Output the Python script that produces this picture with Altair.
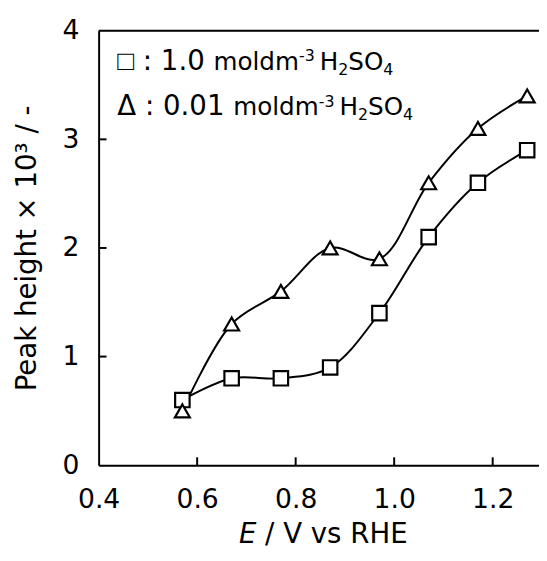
import altair as alt
import pandas as pd

# ---- data ----
potential = [0.57, 0.67, 0.77, 0.87, 0.97, 1.07, 1.17, 1.27]
peak_1M = [0.6, 0.8, 0.8, 0.9, 1.4, 2.1, 2.6, 2.9]
peak_001M = [0.5, 1.3, 1.6, 2.0, 1.9, 2.6, 3.1, 3.4]
x_tick_labels = [0.4, 0.6, 0.8, 1.0, 1.2]
x_inner_ticks = [0.6, 0.8, 1.0, 1.2]
y_tick_labels = [0, 1, 2, 3, 4]
y_inner_ticks = [1, 2, 3]

DV = "DejaVu Sans"
LIB = "Liberation Sans"
W, H = 447, 441
BIG, MID, SMALL = 28, 25, 16
LBL = 27

df = pd.DataFrame({
    "E": potential * 2,
    "peak": peak_1M + peak_001M,
    "series": ["1.0"] * len(potential) + ["0.01"] * len(potential),
})

# advance widths (em) used to lay out rich text pieces
ADV_DV = {" ": .318, ":": .337, ".": .318, "-": .361, "/": .337, "m": .974, "o": .612,
          "l": .278, "d": .635, "H": .752, "S": .635, "O": .787, "E": .632, "V": .684,
          "v": .592, "s": .521, "R": .695, "\u0394": .684}
for c in "0123456789":
    ADV_DV[c] = .636
ADV_LIB = {"\u25a1": .604}


def tw(t, fs, font=DV):
    table = ADV_LIB if font == LIB else ADV_DV
    return sum(table.get(c, .6) for c in t) * fs


def run(parts, x0, y0):
    rows, x = [], x0
    for t, font, fs, dy in parts:
        if t.strip():
            rows.append({"t": t, "px": x, "py": y0 + dy, "fs": fs, "font": font})
        x += tw(t, fs, font)
    return rows


def legend_line(marker, marker_font, conc, y0):
    return run([(marker, marker_font, BIG, 0), (" ", DV, BIG, 0), (": " + conc, DV, BIG, 0),
                (" ", DV, BIG, 0), ("moldm", DV, MID, 0), ("-3", DV, SMALL, -9),
                (" ", DV, SMALL, 0), ("H", DV, MID, 0), ("2", DV, SMALL, 5),
                ("SO", DV, MID, 0), ("4", DV, SMALL, 5)], 19, y0)


legend_df = pd.DataFrame(legend_line("\u25a1", LIB, "1.0", 40) +
                         legend_line("\u0394", DV, "0.01", 86))

xs = alt.Scale(domain=[0.4, 0.4 + W / 500.0], nice=False, zero=False)
ys = alt.Scale(domain=[0, 4], nice=False)

x_axis = alt.Axis(values=x_tick_labels, format=".1f", title=None, tickSize=0,
                  labelPadding=22, labelFontSize=LBL, labelFont=DV, labelColor="black",
                  domainColor="black", domainWidth=2, grid=False, labelFlush=False)
y_axis = alt.Axis(values=y_tick_labels, format="d", title="Peak height \u00d7 10\u00b3 / -",
                  tickSize=0, labelPadding=20, labelFontSize=LBL, labelFont=DV,
                  labelColor="black", domainColor="black", domainWidth=2, grid=False,
                  titleFont=DV, titleFontSize=BIG, titleFontWeight="normal", titleColor="black",
                  titleAngle=270, titleX=-64, titleY=H / 2, titleAlign="center",
                  titleBaseline="alphabetic", labelFlush=False)

base = alt.Chart(df)

lines = base.mark_line(interpolate="catmull-rom", color="black", strokeWidth=2).encode(
    x=alt.X("E:Q", scale=xs, axis=x_axis),
    y=alt.Y("peak:Q", scale=ys, axis=y_axis),
    detail="series:N",
)

squares = base.transform_filter(alt.datum.series == "1.0").mark_point(
    shape="square", size=215, filled=True, fill="white", stroke="black",
    strokeWidth=2.2, opacity=1).encode(x=alt.X("E:Q", scale=xs), y=alt.Y("peak:Q", scale=ys))

triangles = base.transform_filter(alt.datum.series == "0.01").mark_point(
    shape="triangle-up", size=230, filled=True, fill="white", stroke="black",
    strokeWidth=2.2, opacity=1).encode(x=alt.X("E:Q", scale=xs), y=alt.Y("peak:Q", scale=ys))

top_border = alt.Chart(pd.DataFrame({"v": [y_tick_labels[-1]]})).mark_rule(
    color="black", strokeWidth=2).encode(
    y=alt.Y("v:Q", scale=ys), x=alt.value(0), x2=alt.value(W))

xt = alt.Chart(pd.DataFrame({"v": x_inner_ticks})).mark_rule(color="black", strokeWidth=2).encode(
    x=alt.X("v:Q", scale=xs), y=alt.value(H), y2=alt.value(H - 8))
yt = alt.Chart(pd.DataFrame({"v": y_inner_ticks})).mark_rule(color="black", strokeWidth=2).encode(
    y=alt.Y("v:Q", scale=ys), x=alt.value(0), x2=alt.value(8))


def text_layer(font):
    return alt.Chart(legend_df[legend_df["font"] == font]).mark_text(
        align="left", baseline="alphabetic", font=font, color="black").encode(
        x=alt.X("px:Q", scale=None), y=alt.Y("py:Q", scale=None),
        size=alt.Size("fs:Q", scale=None, legend=None), text="t:N")


# x-axis title with italic E
TF = 28
title_rest = " / V vs RHE"
tot = tw("E", TF) + tw(title_rest, TF)
tx0 = 228 - tot / 2
TY = 520
title_E = alt.Chart(pd.DataFrame({"t": ["E"]})).mark_text(
    align="left", baseline="alphabetic", font=DV, fontSize=TF, fontStyle="italic",
    color="black").encode(x=alt.value(tx0), y=alt.value(TY), text="t:N")
title_R = alt.Chart(pd.DataFrame({"t": ["/ V vs RHE"]})).mark_text(
    align="left", baseline="alphabetic", font=DV, fontSize=TF, color="black").encode(
    x=alt.value(tx0 + tw("E ", TF)), y=alt.value(TY), text="t:N")

chart = alt.layer(lines, squares, triangles, top_border, xt, yt,
                  text_layer(LIB), text_layer(DV), title_E, title_R).properties(
    width=W, height=H,
    autosize=alt.AutoSizeParams(type="none"),
    padding={"left": 92, "top": 19, "right": 0, "bottom": 81},
).configure_view(stroke=None).configure(background="white")

chart.save("out.html", embed_options={"renderer": "svg", "actions": False})
